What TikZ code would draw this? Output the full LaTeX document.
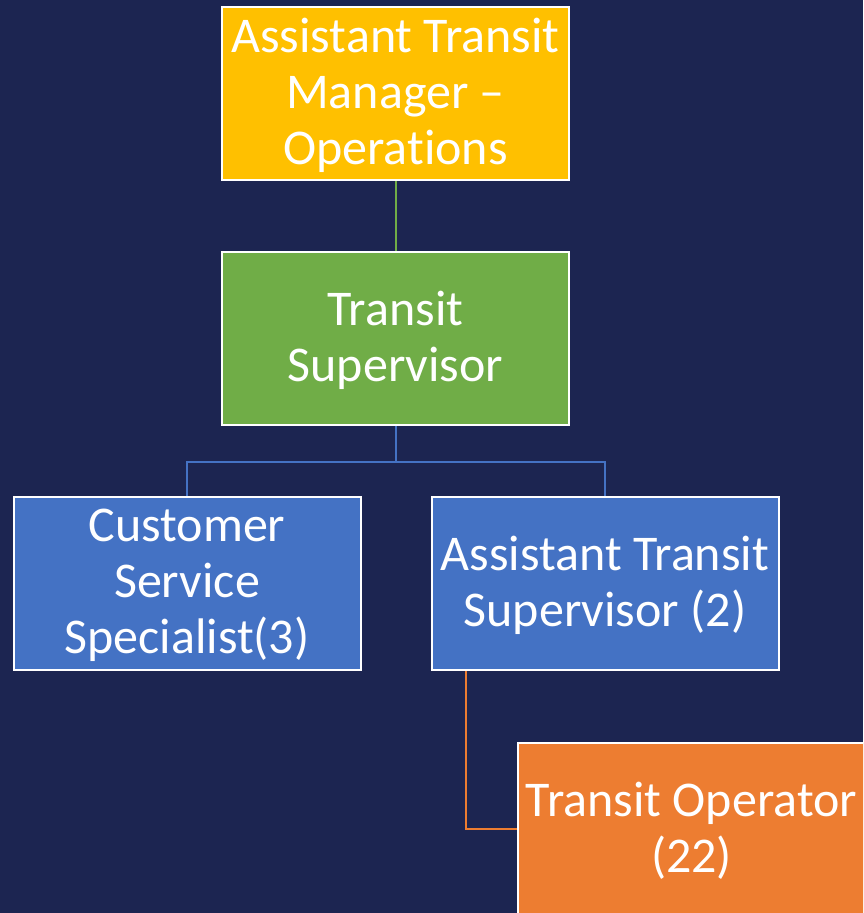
\documentclass[tikz,border=0pt]{standalone}
\usepackage{fontspec}
\setmainfont{Carlito}[Ligatures={NoCommon,NoContextual}]
\definecolor{bg}{HTML}{1C2551}
\definecolor{cyel}{HTML}{FFC000}
\definecolor{cgrn}{HTML}{70AD47}
\definecolor{cblu}{HTML}{4472C4}
\definecolor{corg}{HTML}{ED7D31}
\newcommand{\toplift}[1]{\raisebox{0pt}[\dimexpr\height+4pt\relax]{#1}}
\tikzset{
  box/.style={draw=white, line width=2pt, minimum width=347pt, minimum height=173pt,
    inner sep=0pt, align=center, text=white, font=\fontsize{50}{56}\selectfont},
  conn/.style={line width=2pt}
}
\begin{document}
\begin{tikzpicture}[x=1pt,y=-1pt]
\fill[bg] (0,0) rectangle (863,913);
\useasboundingbox (0,0) rectangle (863,913);
\clip (0,0) rectangle (863,913);
\node[box, fill=cyel] (yel) at (395.5,93.5) {\toplift{Assistant Transit}\\Manager –\\Operations};
\node[box, fill=cgrn] (grn) at (395.5,338.5) {\toplift{Transit}\\Supervisor};
\node[box, fill=cblu] (bl) at (187,583.5) {\toplift{Customer}\\Service\\Specialist(3)};
\node[box, fill=cblu] (br) at (605,583.5) {\toplift{Assistant Transit}\\Supervisor (2)};
\node[box, fill=corg] (or) at (691.5,829) {\toplift{Transit Operator}\\(22)};
\coordinate (bus) at ([yshift=-36pt]grn.south);
\coordinate (ostart) at ([xshift=35pt]br.south west);
\draw[conn, cgrn] (yel.south) -- (grn.north);
\draw[conn, cblu] (grn.south) -- (bus) -| (bl.north);
\draw[conn, cblu] (bus) -| (br.north);
\draw[conn, corg] (ostart) |- (or.west);
\end{tikzpicture}
\end{document}
